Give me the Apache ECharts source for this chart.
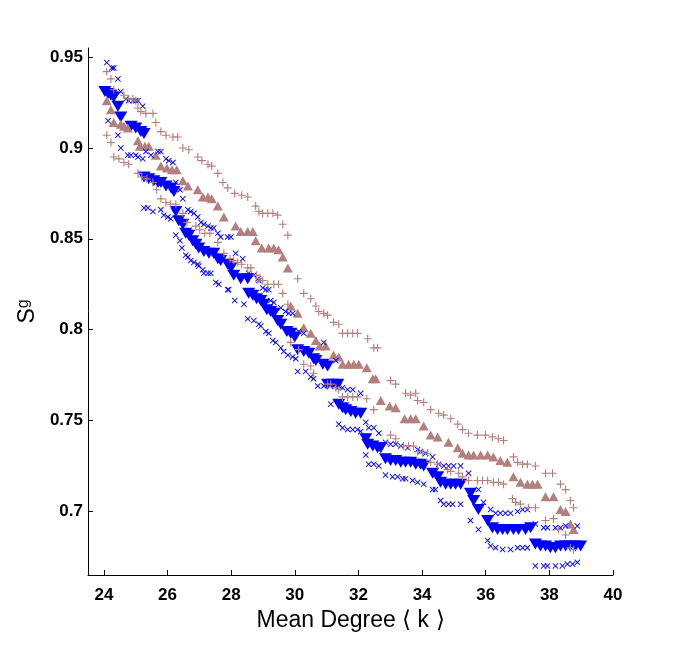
<!DOCTYPE html>
<html>
<head>
<meta charset="utf-8">
<script src="https://cdn.jsdelivr.net/npm/echarts@6/dist/echarts.min.js"></script>
<style>
html,body{margin:0;padding:0;background:#fff;}
#chart{width:677px;height:646px;}
</style>
</head>
<body>
<div id="chart"></div>
<script>
var xTicks = [24, 26, 28, 30, 32, 34, 36, 38, 40];
var yTicks = [0.7, 0.75, 0.8, 0.85, 0.9, 0.95];

var triDown = [[24.03,0.931],[24.13,0.930],[24.22,0.929],[24.31,0.928],[24.44,0.923],[24.53,0.917],[24.85,0.912],[25.00,0.911],[25.16,0.909],[25.26,0.908],
[25.26,0.884],[25.41,0.883],[25.57,0.882],[25.70,0.881],[25.79,0.881],[25.95,0.879],[26.11,0.878],[26.20,0.876],
[26.26,0.865],[26.35,0.860],[26.48,0.858],[26.57,0.853],[26.67,0.852],[26.79,0.849],[26.89,0.847],[26.98,0.845],[27.14,0.843],[27.30,0.842],[27.45,0.842],[27.58,0.839],[27.67,0.838],[27.89,0.836],[27.99,0.834],[28.08,0.830],[28.30,0.828],[28.52,0.828],
[28.55,0.820],[28.68,0.819],[28.80,0.817],[28.93,0.816],[29.02,0.814],[29.12,0.811],[29.24,0.810],[29.34,0.809],[29.46,0.805],[29.56,0.803],[29.75,0.799],[29.87,0.798],[30.00,0.796],
[30.09,0.789],[30.28,0.788],[30.44,0.787],[30.59,0.784],[30.66,0.783],[30.88,0.781],[31.03,0.780],
[31.03,0.770],[31.19,0.770],[31.35,0.770],
[31.38,0.759],[31.50,0.757],[31.60,0.756],[31.76,0.755],[31.91,0.754],[32.07,0.754],
[32.23,0.740],[32.29,0.737],[32.45,0.736],[32.60,0.735],[32.70,0.735],
[32.85,0.729],[33.01,0.728],[33.17,0.728],[33.33,0.727],[33.48,0.727],[33.64,0.727],[33.80,0.726],[33.95,0.726],[34.05,0.725],
[34.33,0.721],[34.49,0.719],[34.58,0.716],[34.74,0.715],[34.90,0.715],[35.05,0.715],[35.21,0.715],
[35.52,0.710],[35.62,0.706],[35.77,0.701],[36.06,0.695],
[36.21,0.691],[36.37,0.690],[36.53,0.690],[36.68,0.690],[36.87,0.690],[37.03,0.690],[37.25,0.690],[37.41,0.691],
[37.56,0.682],[37.72,0.681],[37.88,0.681],[38.03,0.680],[38.19,0.680],[38.35,0.681],[38.51,0.681],[38.66,0.681],[38.82,0.681],[38.98,0.681]];

var triUp = [[24.09,0.926],[24.22,0.921],[24.31,0.914],[24.53,0.913],[24.63,0.912],[24.75,0.911],[25.07,0.904],[25.13,0.901],[25.29,0.901],[25.41,0.901],[25.63,0.896],[25.79,0.890],[25.98,0.889],[26.14,0.888],[26.29,0.888],[26.48,0.882],[26.64,0.879],[26.95,0.877],[27.11,0.873],[27.27,0.873],[27.39,0.872],[27.58,0.868],[27.77,0.862],[28.14,0.857],[28.30,0.854],[28.52,0.854],[28.68,0.854],[28.77,0.849],[28.96,0.845],[29.18,0.845],[29.34,0.845],[29.49,0.844],[29.62,0.840],[29.78,0.834],
[29.87,0.813],[30.09,0.809],[30.28,0.801],[30.50,0.798],[30.66,0.794],[30.78,0.791],[30.97,0.791],[31.22,0.786],[31.38,0.785],[31.50,0.781],[31.69,0.781],[31.85,0.781],[32.01,0.781],[32.26,0.779],[32.45,0.773],[32.54,0.773],[32.70,0.761],[32.98,0.758],[33.17,0.757],[33.45,0.751],[33.64,0.751],[33.80,0.751],[34.05,0.747],[34.27,0.742],[34.49,0.741],[34.83,0.738],[35.12,0.735],[35.27,0.732],[35.46,0.731],[35.62,0.731],[35.84,0.731],[36.06,0.731],[36.24,0.730],[36.46,0.728],[36.68,0.727],[36.87,0.719],[37.09,0.716],[37.31,0.715],[37.47,0.715],[37.63,0.715],[37.88,0.708],[38.13,0.708],[38.35,0.701],[38.51,0.700],[38.66,0.693],[38.76,0.690]];

var plusUpper = [[24.09,0.942],[24.22,0.938],[24.31,0.932],[24.63,0.929],[24.78,0.927],[24.91,0.927],[25.00,0.926],[25.07,0.922],[25.16,0.920],[25.32,0.919],[25.54,0.919],[25.63,0.914],[25.79,0.909],[25.95,0.907],[26.17,0.906],[26.32,0.906],[26.48,0.900],[26.67,0.899],[26.95,0.895],[27.08,0.893],[27.27,0.891],[27.39,0.890],[27.58,0.886],[27.74,0.881],[27.89,0.878],[28.11,0.875],[28.33,0.874],[28.52,0.873],[28.77,0.868],[28.87,0.865],[28.99,0.864],[29.15,0.864],[29.31,0.864],[29.46,0.863],[29.62,0.858],[29.78,0.852],
[30.09,0.828],[30.28,0.820],[30.50,0.817],[30.66,0.813],[30.75,0.810],[30.91,0.809],[31.03,0.808],[31.22,0.804],[31.38,0.803],[31.50,0.798],[31.66,0.798],[31.82,0.798],[31.97,0.798],[32.29,0.795],[32.48,0.790],[32.60,0.790],
[33.01,0.772],[33.17,0.770],[33.48,0.765],[33.64,0.764],[33.80,0.765],[33.86,0.761],[34.05,0.760],[34.27,0.756],[34.52,0.754],[34.68,0.753],[34.90,0.751],[35.12,0.748],[35.27,0.745],[35.46,0.743],[35.74,0.742],[35.99,0.742],[36.21,0.741],[36.40,0.740],[36.56,0.739],
[36.87,0.730],[37.00,0.727],[37.16,0.726],[37.31,0.726],[37.56,0.725],[37.88,0.721],[38.10,0.721],[38.35,0.715],[38.51,0.712],[38.66,0.706],[38.76,0.702]];

var plusLower = [[24.09,0.907],[24.22,0.903],[24.31,0.895],[24.47,0.894],[24.63,0.892],[24.78,0.891],[25.07,0.886],[25.19,0.884],[25.35,0.883],[25.54,0.881],[25.66,0.877],[25.79,0.872],[25.95,0.870],[26.10,0.869],[26.26,0.869],[26.48,0.864],[26.61,0.859],[26.89,0.857],[27.01,0.855],[27.17,0.853],[27.33,0.853],[27.58,0.848],[27.77,0.842],[27.96,0.839],[28.08,0.838],[28.21,0.837],[28.33,0.836],[28.52,0.834],[28.62,0.834],[28.80,0.830],[28.87,0.828],[28.99,0.827],[29.15,0.825],[29.34,0.825],[29.49,0.825],[29.62,0.820],[29.78,0.814],
[29.87,0.793],[30.12,0.789],[30.28,0.781],[30.50,0.780],[30.59,0.776],[31.03,0.770],[31.13,0.770],[31.29,0.768],[31.38,0.767],[31.50,0.763],[31.66,0.763],[31.82,0.763],[31.97,0.763],[32.26,0.762],[32.48,0.756],
[33.01,0.742],[33.17,0.740],[33.42,0.736],[33.58,0.736],[33.73,0.736],[33.86,0.733],[34.02,0.732],[34.17,0.732],[34.27,0.727],[34.49,0.726],[34.80,0.723],[34.90,0.722],[35.15,0.721],[35.27,0.719],[35.46,0.717],[35.74,0.717],[35.90,0.717],[36.06,0.717],[36.24,0.716],[36.40,0.716],[36.56,0.715],
[36.84,0.707],[36.94,0.705],[37.09,0.704],[37.34,0.702],[37.56,0.702],[37.88,0.695],[38.13,0.696],[38.29,0.690],[38.51,0.687],[38.66,0.680],[38.76,0.679]];

var crossUpper = [[24.09,0.947],[24.25,0.944],[24.31,0.944],[24.44,0.938],[24.53,0.931],[24.69,0.927],[24.78,0.926],[24.91,0.926],[25.00,0.926],[25.07,0.926],[25.22,0.923],
[24.13,0.915],[24.44,0.907],[24.53,0.900],[24.75,0.896],[24.85,0.896],[25.00,0.896],[25.07,0.895],[25.22,0.894],[25.32,0.898],[25.48,0.896],[25.70,0.898],[25.79,0.898],[25.95,0.894],[26.04,0.893],[26.17,0.892],
[26.26,0.881],[26.39,0.877],[26.48,0.872],[26.64,0.866],[26.73,0.865],[26.83,0.864],[26.95,0.862],[27.05,0.859],[27.14,0.858],[27.27,0.857],[27.36,0.856],[27.45,0.856],[27.58,0.853],[27.67,0.851],[27.89,0.851],[27.99,0.851],
[28.14,0.842],[28.36,0.839],[28.55,0.831],[28.71,0.830],[28.84,0.828],[28.87,0.827],[28.99,0.823],[29.09,0.822],[29.18,0.822],[29.24,0.816],[29.34,0.815],[29.56,0.812],[29.71,0.810],[29.81,0.809],[29.93,0.809],
[30.12,0.799],[30.28,0.798],[30.91,0.793],[31.29,0.783],
[31.38,0.769],[31.50,0.768],[31.66,0.767],[31.82,0.767],[32.07,0.765],
[32.23,0.749],[32.32,0.746],[32.48,0.746],[32.64,0.743],[32.85,0.738],[33.01,0.737],[33.17,0.737],[33.33,0.736],[33.55,0.735],[33.86,0.734],[33.95,0.733],[34.11,0.732],[34.33,0.730],[34.52,0.726],[34.68,0.725],[34.83,0.725],[34.99,0.725],[35.21,0.725],[35.46,0.721],
[35.77,0.712],[35.93,0.705],[36.15,0.701],[36.31,0.699],[36.46,0.699],[36.62,0.699],[36.78,0.699],[37.00,0.700],[37.16,0.701],[37.31,0.701],
[37.56,0.693],[37.82,0.691],[37.94,0.691],[38.19,0.691],[38.35,0.691],[38.51,0.692],[38.88,0.692]];

var crossLower = [[25.26,0.867],[25.38,0.867],[25.54,0.865],[25.79,0.866],[25.88,0.863],[26.01,0.862],[26.10,0.861],
[26.26,0.852],[26.39,0.849],[26.45,0.845],[26.57,0.841],[26.64,0.840],[26.73,0.838],[26.83,0.837],[26.95,0.836],[26.98,0.835],[27.11,0.833],[27.14,0.831],[27.27,0.831],[27.36,0.831],[27.52,0.826],[27.61,0.825],[27.89,0.822],[27.92,0.822],
[28.11,0.816],[28.40,0.814],[28.52,0.806],[28.71,0.805],[28.87,0.803],[28.93,0.802],[29.09,0.799],[29.18,0.798],[29.31,0.794],[29.40,0.793],
[29.56,0.790],[29.65,0.788],[29.78,0.786],[29.93,0.785],[30.03,0.784],[30.09,0.777],[30.34,0.777],[30.50,0.774],[30.59,0.773],[30.72,0.769],[30.91,0.769],[31.13,0.759],
[31.38,0.748],[31.50,0.746],[31.66,0.745],[31.82,0.745],[31.97,0.745],[32.07,0.744],
[32.23,0.731],[32.32,0.726],[32.48,0.726],[32.64,0.725],[32.85,0.720],[33.07,0.719],[33.23,0.719],[33.39,0.718],[33.48,0.718],[33.70,0.717],[33.86,0.716],[34.05,0.715],[34.33,0.712],[34.42,0.712],[34.58,0.706],[34.68,0.704],[34.83,0.704],[34.96,0.704],[35.21,0.704],
[35.52,0.695],[35.77,0.690],[36.06,0.684],[36.15,0.681],[36.31,0.680],[36.53,0.679],[36.78,0.679],[37.00,0.680],[37.16,0.680],[37.31,0.680],
[37.56,0.670],[37.82,0.670],[37.94,0.670],[38.19,0.670],[38.41,0.670],[38.57,0.671],[38.73,0.671],[38.88,0.672]];

var BROWN = '#B3807D';
var BLUE = '#0000FF';
var PLUS = 'path://M6,0h2v6h6v2h-6v6h-2v-6h-6v-2h6z';
var CROSS = 'path://M0,1.5L1.5,0L7,5.5L12.5,0L14,1.5L8.5,7L14,12.5L12.5,14L7,8.5L1.5,14L0,12.5L5.5,7Z';

var chart = echarts.init(document.getElementById('chart'), null, {renderer: 'canvas'});
var axisFont = {fontFamily: 'Liberation Sans, Arial, sans-serif', fontSize: 17, fontWeight: 'bold', color: '#000'};

chart.setOption({
  animation: false,
  backgroundColor: '#fff',
  grid: {left: 88, right: 64, top: 48, bottom: 71, containLabel: false},
  xAxis: {
    type: 'value', min: 23.5, max: 40,
    name: 'Mean Degree \u27E8 k \u27E9',
    nameLocation: 'middle', nameGap: 30,
    nameTextStyle: {fontFamily: 'Liberation Sans, Arial, sans-serif', fontSize: 23, color: '#000'},
    axisLine: {show: true, lineStyle: {color: '#000', width: 1}},
    axisTick: {show: true, inside: true, length: 5, customValues: xTicks, lineStyle: {color: '#000'}},
    axisLabel: Object.assign({show: true, margin: 12, customValues: xTicks}, axisFont),
    splitLine: {show: false}
  },
  yAxis: {
    type: 'value', min: 0.665, max: 0.955,
    name: '{a|S}{b|g}',
    nameLocation: 'middle', nameGap: 49, nameRotate: 90,
    nameTextStyle: {
      color: '#000',
      rich: {
        a: {fontFamily: 'Liberation Sans, Arial, sans-serif', fontSize: 23, color: '#000', verticalAlign: 'bottom'},
        b: {fontFamily: 'Liberation Sans, Arial, sans-serif', fontSize: 16, color: '#000', verticalAlign: 'top'}
      }
    },
    axisLine: {show: true, lineStyle: {color: '#000', width: 1}},
    axisTick: {show: true, inside: true, length: 5, customValues: yTicks, lineStyle: {color: '#000'}},
    axisLabel: Object.assign({show: true, margin: 5, customValues: yTicks}, axisFont),
    splitLine: {show: false}
  },
  series: [
    {type: 'scatter', data: triDown, symbol: 'triangle', symbolRotate: 180, symbolSize: [13, 11], itemStyle: {color: BLUE, opacity: 1}, z: 2},
    {type: 'scatter', data: triUp, symbol: 'triangle', symbolSize: [10, 9], itemStyle: {color: BROWN, opacity: 1}, z: 3},
    {type: 'scatter', data: crossUpper, symbol: CROSS, symbolSize: 6, itemStyle: {color: BLUE, opacity: 1}, z: 4},
    {type: 'scatter', data: crossLower, symbol: CROSS, symbolSize: 6, itemStyle: {color: BLUE, opacity: 1}, z: 4},
    {type: 'scatter', data: plusUpper, symbol: PLUS, symbolSize: 8, itemStyle: {color: BROWN, opacity: 1}, z: 5},
    {type: 'scatter', data: plusLower, symbol: PLUS, symbolSize: 8, itemStyle: {color: BROWN, opacity: 1}, z: 5}
  ]
});
</script>
</body>
</html>
